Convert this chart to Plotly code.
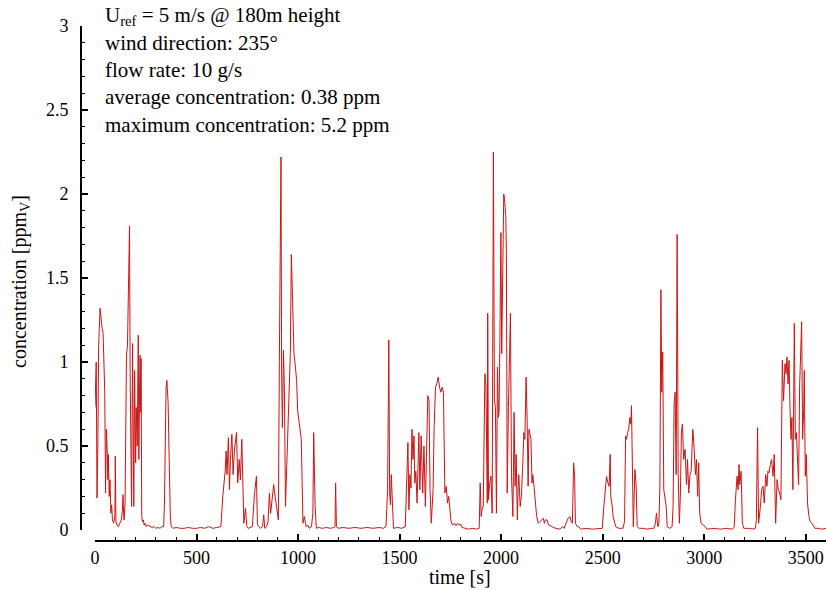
import plotly.graph_objects as go

# ---------------- data ----------------
time_s = [
    0, 3, 6, 8, 10, 14, 18, 25, 30, 35, 40, 45, 48, 52, 56, 60, 63, 66, 70, 74,
    78, 82, 86, 92, 98, 100, 103, 108, 115, 122, 130, 135, 138, 141, 143, 148, 152, 155, 160, 165,
    170, 173, 176, 180, 185, 188, 191, 195, 198, 200, 203, 208, 213, 216, 219, 222, 225, 227, 230, 234,
    238, 242, 246, 252, 260, 270, 280, 290, 300, 310, 320, 330, 338, 342, 346, 350, 354, 357, 360, 364,
    367, 371, 375, 385, 400, 420, 440, 460, 480, 500, 520, 540, 560, 580, 600, 620, 630, 636, 641, 646,
    650, 657, 662, 667, 674, 680, 687, 697, 703, 710, 716, 723, 728, 733, 741, 748, 755, 765, 775, 785,
    795, 800, 815, 825, 831, 836, 845, 852, 859, 865, 872, 880, 887, 895, 903, 908, 913, 916, 919, 923,
    928, 933, 938, 946, 952, 958, 962, 967, 972, 980, 987, 993, 998, 1004, 1011, 1016, 1024, 1031, 1040, 1048,
    1056, 1066, 1073, 1077, 1084, 1090, 1100, 1120, 1140, 1160, 1175, 1182, 1185, 1189, 1200, 1220, 1250, 1280, 1310, 1340,
    1370, 1400, 1420, 1433, 1441, 1447, 1451, 1455, 1459, 1463, 1470, 1490, 1510, 1528, 1534, 1541, 1546, 1551, 1556, 1561,
    1566, 1571, 1575, 1580, 1586, 1595, 1600, 1606, 1614, 1620, 1627, 1634, 1639, 1645, 1650, 1656, 1665, 1670, 1677, 1683,
    1690, 1697, 1703, 1710, 1716, 1723, 1730, 1736, 1742, 1748, 1752, 1760, 1770, 1778, 1785, 1793, 1801, 1808, 1820, 1840,
    1860, 1880, 1892, 1897, 1902, 1906, 1912, 1917, 1920, 1925, 1930, 1932, 1934, 1938, 1943, 1950, 1956, 1962, 1967, 1972,
    1977, 1982, 1987, 1990, 1994, 1999, 2003, 2008, 2013, 2018, 2023, 2026, 2030, 2036, 2041, 2046, 2051, 2058, 2064, 2069,
    2074, 2080, 2084, 2087, 2094, 2100, 2107, 2112, 2117, 2123, 2128, 2133, 2137, 2140, 2147, 2152, 2156, 2162, 2169, 2175,
    2183, 2192, 2200, 2208, 2213, 2218, 2226, 2234, 2251, 2268, 2290, 2302, 2310, 2321, 2330, 2339, 2345, 2351, 2357, 2362,
    2366, 2375, 2383, 2392, 2420, 2450, 2480, 2498, 2506, 2513, 2519, 2526, 2532, 2537, 2540, 2545, 2552, 2564, 2580, 2600,
    2608, 2613, 2618, 2623, 2628, 2634, 2639, 2642, 2646, 2651, 2659, 2665, 2670, 2680, 2700, 2720, 2740, 2752, 2760, 2765,
    2772, 2777, 2782, 2787, 2791, 2796, 2801, 2808, 2813, 2818, 2830, 2842, 2847, 2852, 2857, 2862, 2867, 2872, 2878, 2883,
    2888, 2893, 2899, 2906, 2913, 2918, 2924, 2930, 2936, 2944, 2949, 2957, 2962, 2968, 2973, 2978, 2985, 2995, 3005, 3014,
    3050, 3080, 3110, 3140, 3148, 3154, 3162, 3167, 3172, 3175, 3182, 3188, 3195, 3220, 3240, 3252, 3257, 3263, 3268, 3277,
    3283, 3290, 3296, 3303, 3309, 3314, 3319, 3326, 3332, 3339, 3345, 3352, 3359, 3365, 3372, 3378, 3385, 3391, 3398, 3403,
    3408, 3413, 3418, 3423, 3428, 3432, 3437, 3444, 3449, 3454, 3460, 3465, 3470, 3475, 3480, 3485, 3490, 3493, 3498, 3503,
    3509, 3516, 3522, 3531, 3545, 3560, 3580, 3600,
]

conc_ppm = [
    0.73, 0.95, 1.00, 0.60, 0.19, 0.50, 1.10, 1.32, 1.25, 1.20, 1.17, 0.97, 0.82, 0.22, 0.60, 0.48, 0.30, 0.45, 0.20, 0.30,
    0.10, 0.15, 0.06, 0.04, 0.08, 0.44, 0.05, 0.03, 0.02, 0.04, 0.06, 0.12, 0.21, 0.10, 0.06, 0.15, 0.60, 1.04, 1.10, 1.47,
    1.81, 0.93, 0.50, 0.14, 1.11, 0.60, 0.14, 0.95, 0.60, 0.40, 0.73, 0.50, 1.16, 0.42, 0.80, 1.04, 0.70, 1.02, 0.08, 0.05,
    0.06, 0.03, 0.04, 0.02, 0.03, 0.02, 0.015, 0.02, 0.01, 0.015, 0.01, 0.02, 0.02, 0.15, 0.77, 0.85, 0.89, 0.80, 0.76, 0.50,
    0.24, 0.08, 0.02, 0.01, 0.015, 0.01, 0.01, 0.015, 0.01, 0.01, 0.015, 0.01, 0.02, 0.01, 0.015, 0.02, 0.21, 0.28, 0.35, 0.47,
    0.33, 0.55, 0.24, 0.42, 0.57, 0.33, 0.48, 0.58, 0.28, 0.42, 0.30, 0.54, 0.24, 0.04, 0.13, 0.02, 0.01, 0.015, 0.02, 0.21,
    0.32, 0.03, 0.01, 0.02, 0.09, 0.01, 0.02, 0.05, 0.22, 0.10, 0.18, 0.27, 0.20, 0.14, 0.06, 1.01, 1.75, 2.22, 0.93, 0.61,
    1.07, 0.82, 0.14, 0.42, 0.58, 0.82, 1.05, 1.64, 1.37, 1.05, 0.97, 0.89, 0.71, 0.65, 0.60, 0.54, 0.04, 0.08, 0.02, 0.03,
    0.01, 0.02, 0.10, 0.58, 0.14, 0.01, 0.015, 0.01, 0.015, 0.01, 0.015, 0.02, 0.28, 0.02, 0.01, 0.015, 0.01, 0.015, 0.01, 0.015,
    0.01, 0.015, 0.01, 0.02, 0.24, 1.13, 0.22, 0.15, 0.33, 0.20, 0.01, 0.015, 0.01, 0.02, 0.26, 0.52, 0.12, 0.33, 0.25, 0.60,
    0.42, 0.56, 0.28, 0.35, 0.16, 0.58, 0.24, 0.56, 0.22, 0.50, 0.14, 0.52, 0.80, 0.77, 0.24, 0.04, 0.24, 0.61, 0.85, 0.87,
    0.91, 0.85, 0.82, 0.85, 0.82, 0.22, 0.26, 0.16, 0.20, 0.12, 0.06, 0.03, 0.04, 0.025, 0.04, 0.03, 0.035, 0.015, 0.01, 0.005,
    0.01, 0.005, 0.01, 0.28, 0.08, 0.12, 0.14, 0.60, 0.93, 0.87, 0.52, 0.16, 1.29, 0.18, 0.27, 0.32, 0.10, 2.25, 0.77, 0.73,
    0.10, 0.97, 0.67, 0.71, 1.13, 1.77, 1.05, 1.73, 2.00, 1.95, 1.87, 1.64, 0.22, 0.73, 1.16, 1.29, 0.33, 0.08, 0.70, 0.26,
    0.45, 0.06, 0.26, 0.33, 0.14, 0.20, 0.40, 0.58, 0.54, 0.91, 0.67, 0.26, 0.60, 0.58, 0.54, 0.28, 0.33, 0.26, 0.14, 0.08,
    0.04, 0.05, 0.06, 0.07, 0.04, 0.06, 0.06, 0.03, 0.02, 0.01, 0.005, 0.02, 0.01, 0.04, 0.07, 0.08, 0.05, 0.04, 0.40, 0.32,
    0.04, 0.02, 0.02, 0.005, 0.01, 0.005, 0.01, 0.01, 0.14, 0.26, 0.32, 0.28, 0.26, 0.45, 0.20, 0.16, 0.08, 0.02, 0.01, 0.01,
    0.05, 0.56, 0.54, 0.58, 0.60, 0.67, 0.63, 0.74, 0.33, 0.02, 0.36, 0.27, 0.02, 0.01, 0.01, 0.005, 0.01, 0.01, 0.04, 0.10,
    0.02, 0.04, 0.26, 1.43, 0.82, 1.06, 0.24, 0.16, 0.14, 0.02, 0.01, 0.02, 0.14, 0.75, 0.82, 0.33, 1.76, 0.33, 0.04, 0.22,
    0.58, 0.63, 0.42, 0.48, 0.27, 0.42, 0.22, 0.33, 0.35, 0.60, 0.52, 0.33, 0.42, 0.20, 0.40, 0.10, 0.04, 0.03, 0.02, 0.005,
    0.01, 0.005, 0.01, 0.005, 0.02, 0.18, 0.32, 0.24, 0.39, 0.27, 0.35, 0.04, 0.01, 0.01, 0.005, 0.01, 0.06, 0.61, 0.04, 0.14,
    0.24, 0.26, 0.16, 0.33, 0.26, 0.35, 0.34, 0.39, 0.42, 0.32, 0.45, 0.04, 0.30, 0.24, 0.22, 0.18, 1.01, 0.77, 0.99, 0.93,
    1.03, 0.87, 1.01, 0.71, 0.54, 0.67, 0.24, 1.23, 0.54, 0.58, 0.45, 0.27, 0.85, 1.03, 1.24, 0.54, 0.71, 0.95, 0.32, 0.45,
    0.16, 0.08, 0.05, 0.04, 0.01, 0.01, 0.005, 0.01,
]

x_tick_step = 500
y_tick_step = 0.5
info_lines = [
    "U<sub>ref</sub> = 5 m/s @ 180m height",
    "wind direction: 235°",
    "flow rate: 10 g/s",
    "average concentration: 0.38 ppm",
    "maximum concentration: 5.2 ppm",
]
x_title = "time [s]"
y_title = "concentration [ppm<sub>V</sub>]"

# ---------------- figure ----------------
# the page margin is removed by post_script, so the figure fills the window
W, H = 826, 590
L, R, T = 81, 0, 26
B = H - 541
PW, PH = W - L - R, H - T - B
FONT = "Liberation Serif, Times New Roman, serif"


def px_x(p):
    """picture x pixel -> paper coordinate"""
    return (p - L) / PW


def px_y(p):
    """picture y pixel -> paper coordinate"""
    return (H - B - p) / PH


fig = go.Figure(
    go.Scatter(
        x=time_s, y=conc_ppm, mode="lines",
        line=dict(color="#CC1414", width=1),
        hoverinfo="skip",
    )
)

fig.update_layout(
    width=W, height=H,
    margin=dict(l=L, r=R, t=T, b=B, pad=0),
    paper_bgcolor="white", plot_bgcolor="white",
    showlegend=False,
    font=dict(family=FONT, size=18, color="black"),
)

axis_common = dict(
    showline=True, linecolor="black", linewidth=2,
    ticks="inside", ticklen=6, tickwidth=2, tickcolor="black",
    showgrid=False, zeroline=False,
    tickfont=dict(family=FONT, size=18, color="black"),
)

fig.update_xaxes(
    range=[0, 3600], domain=[px_x(95), 1], anchor="free", position=0,
    tick0=0, dtick=x_tick_step,
    minor=dict(ticks="inside", ticklen=3, tickwidth=1, tickcolor="black", dtick=100, showgrid=False),
    **axis_common,
)
fig.update_yaxes(
    range=[0, 3], domain=[px_y(530), 1], anchor="free", position=0,
    tick0=0, dtick=y_tick_step,
    minor=dict(ticks="inside", ticklen=3, tickwidth=1, tickcolor="black", dtick=0.1, showgrid=False),
    ticklabelstandoff=8,
    **axis_common,
)

line_centers = [16, 43, 70, 97, 125]
for txt, yc in zip(info_lines, line_centers):
    fig.add_annotation(
        text=txt, xref="paper", yref="paper", x=px_x(103), y=px_y(yc),
        xanchor="left", yanchor="middle", showarrow=False,
        font=dict(family=FONT, size=21, color="black"),
    )

fig.add_annotation(
    text=x_title, xref="paper", yref="paper", x=px_x(460), y=px_y(577),
    xanchor="center", yanchor="middle", showarrow=False,
    font=dict(family=FONT, size=20, color="black"),
)
fig.add_annotation(
    text=y_title, xref="paper", yref="paper", x=px_x(20), y=px_y(282),
    xanchor="center", yanchor="middle", textangle=-90, showarrow=False,
    font=dict(family=FONT, size=20, color="black"),
)

fig.write_html(
    "out.html",
    config={"displayModeBar": False},
    post_script=(
        "document.documentElement.style.margin='0';"
        "document.body.style.margin='0';"
        "document.documentElement.style.overflow='hidden';"
        "document.body.style.overflow='hidden';"
    ),
)
